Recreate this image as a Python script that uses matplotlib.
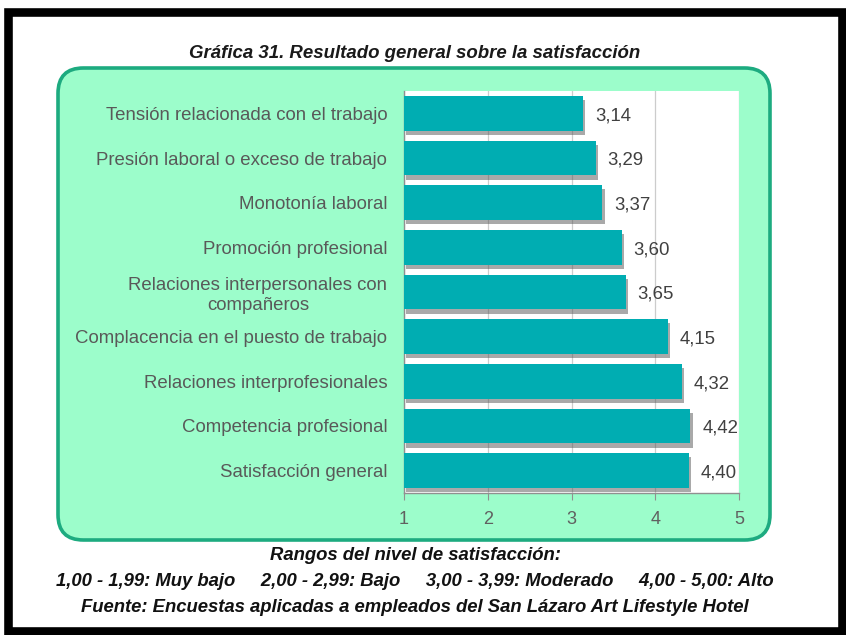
import matplotlib
matplotlib.use("Agg")
import matplotlib.pyplot as plt
import matplotlib.patheffects as pe
from matplotlib.patches import FancyBboxPatch, Rectangle

plt.rcParams['font.family'] = ['Liberation Sans', 'DejaVu Sans']

# data, top to bottom
categories = [
    "Tensión relacionada con el trabajo",
    "Presión laboral o exceso de trabajo",
    "Monotonía laboral",
    "Promoción profesional",
    "Relaciones interpersonales con\ncompañeros",
    "Complacencia en el puesto de trabajo",
    "Relaciones interprofesionales",
    "Competencia profesional",
    "Satisfacción general",
]
values = [3.14, 3.29, 3.37, 3.60, 3.65, 4.15, 4.32, 4.42, 4.40]
xticks = [1, 2, 3, 4, 5]

title = "Gráfica 31. Resultado general sobre la satisfacción"
foot_lines = [
    "Rangos del nivel de satisfacción:",
    "1,00 - 1,99: Muy bajo     2,00 - 2,99: Bajo     3,00 - 3,99: Moderado     4,00 - 5,00: Alto",
    "Fuente: Encuestas aplicadas a empleados del San Lázaro Art Lifestyle Hotel",
]

W, H = 846, 635
fig = plt.figure(figsize=(W / 100, H / 100), dpi=100)


def fx(x):
    return x / W


def fy(y):
    return 1 - y / H


# black frame
fig.patches.append(Rectangle((fx(7.5), fy(631)), fx(842) - fx(7.5), fy(11.5) - fy(631),
                             transform=fig.transFigure, fill=False, edgecolor="black",
                             linewidth=6.2, zorder=0))

# green rounded panel
pad = 10
box = FancyBboxPatch((fx(58 + pad), fy(540 - pad)), fx(770 - 58 - 2 * pad),
                     fy(68 + pad) - fy(540 - pad),
                     boxstyle="round,pad=%f,rounding_size=0.03" % fx(pad),
                     transform=fig.transFigure, facecolor="#9CFDCB",
                     edgecolor="#1DAB80", linewidth=2.6, zorder=0, mutation_aspect=W / H)
fig.patches.append(box)

ax = fig.add_axes([fx(404), fy(493), fx(739) - fx(404), fy(91) - fy(493)])
ax.set_facecolor("white")
ax.set_zorder(1)

ypos = list(range(len(categories)))
bars = ax.barh(ypos, [v - 1 for v in values], left=1, height=0.78, color="#00ADB2",
               zorder=3)
for b in bars:
    b.set_path_effects([pe.SimplePatchShadow(offset=(1.5, -3), shadow_rgbFace="#555555",
                                             alpha=0.5), pe.Normal()])

for y, v in zip(ypos, values):
    ax.text(v + 0.14, y + 0.05, f"{v:.2f}".replace(".", ","), va="center", ha="left",
            fontsize=13.4, color="#404040", zorder=4)

ax.set_xlim(1, 5)
ax.set_ylim(len(categories) - 0.5, -0.5)
ax.set_xticks(xticks)
ax.set_xticklabels([str(t) for t in xticks])
ax.set_yticks(ypos)
ax.set_yticklabels(categories, fontsize=13.4, color="#595959", ha="right",
                   multialignment="center")
ax.tick_params(axis="y", length=0, pad=12)
ax.tick_params(axis="x", length=5, color="#909090", labelsize=13, labelcolor="#606060",
               pad=8)
ax.grid(axis="x", color="#CCCCCC", linewidth=0.9, zorder=0)
for s in ["top", "right"]:
    ax.spines[s].set_visible(False)
for s in ["left", "bottom"]:
    ax.spines[s].set_color("#909090")
    ax.spines[s].set_linewidth(1.0)

fig.text(fx(415), fy(53), title, ha="center", va="center", fontsize=13.4,
         fontweight="bold", fontstyle="italic", color="#1a1a1a")
for yy, line in zip([555, 582, 607], foot_lines):
    fig.text(fx(415), fy(yy), line, ha="center", va="center", fontsize=13.3,
             fontweight="bold", fontstyle="italic", color="#111111")

fig.savefig("out.png", dpi=100)
